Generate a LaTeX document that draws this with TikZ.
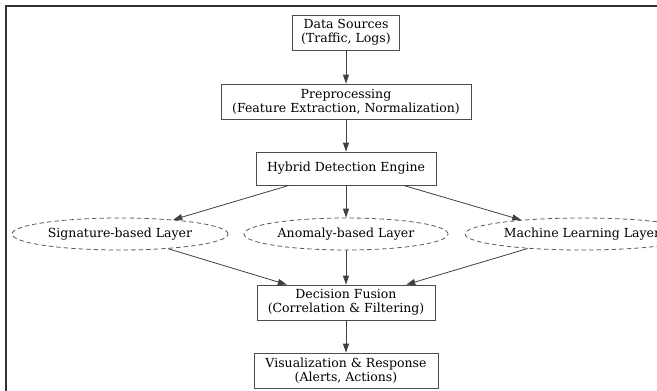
\documentclass[tikz,border=0pt]{standalone}
\usepackage{fontspec}
\setmainfont{DejaVu Serif}
\usepackage{tikz}
\usetikzlibrary{arrows.meta,shapes.geometric}
\newcommand{\stagefont}{\fontsize{12.5}{14}\selectfont}
\tikzset{
    stagebox/.style={rectangle,draw=black!70,line width=0.8pt,inner sep=0pt,align=center,font=\stagefont},
    layernode/.style={ellipse,draw=black!65,line width=0.8pt,dash pattern=on 4.5pt off 3pt,inner sep=0pt,minimum height=32pt,font=\stagefont},
    flowedge/.style={draw=black!75,line width=0.8pt,-{Triangle[length=9pt,width=6pt]}},
    frameline/.style={draw=black!80,line width=1.6pt}
}

\begin{document}
\begin{tikzpicture}[x=1pt,y=-1pt]
  \useasboundingbox (0,0) rectangle (657,391);

  % window frame (left and top edge only)
  \draw[frameline] (6,400) -- (6,6) -- (665,6);

  % main column
  \node[stagebox,minimum width=107pt,minimum height=35pt] (src) at (346,32.5)
    {Data Sources\\(Traffic, Logs)};
  \node[stagebox,minimum width=250pt,minimum height=35pt] (prep) at (346,101.5)
    {Preprocessing\\(Feature Extraction, Normalization)};
  \node[stagebox,minimum width=180pt,minimum height=33pt] (hyb) at (346,168.5)
    {Hybrid Detection Engine};

  % detection layers
  \node[layernode,minimum width=216pt] (sig) at (120,234) {Signature-based Layer};
  \node[layernode,minimum width=204pt] (anom) at (346,234) {Anomaly-based Layer};
  \node[layernode,minimum width=234pt] (ml) at (582,234) {Machine Learning Layer};

  % fusion and output
  \node[stagebox,minimum width=178pt,minimum height=35pt] (fuse) at (346,302.5)
    {Decision Fusion\\(Correlation \& Filtering)};
  \node[stagebox,minimum width=184pt,minimum height=35pt] (resp) at (346,370.5)
    {Visualization \& Response\\(Alerts, Actions)};

  % connectors
  \draw[flowedge] (src) -- (prep);
  \draw[flowedge] (prep) -- (hyb);
  \draw[flowedge] (hyb) -- (sig.15);
  \draw[flowedge] (hyb) -- (anom);
  \draw[flowedge] (hyb) -- (ml.167);
  \draw[flowedge] (sig.-17) -- (fuse);
  \draw[flowedge] (anom) -- (fuse);
  \draw[flowedge] (ml.-165) -- (fuse);
  \draw[flowedge] (fuse) -- (resp);

\end{tikzpicture}
\end{document}
